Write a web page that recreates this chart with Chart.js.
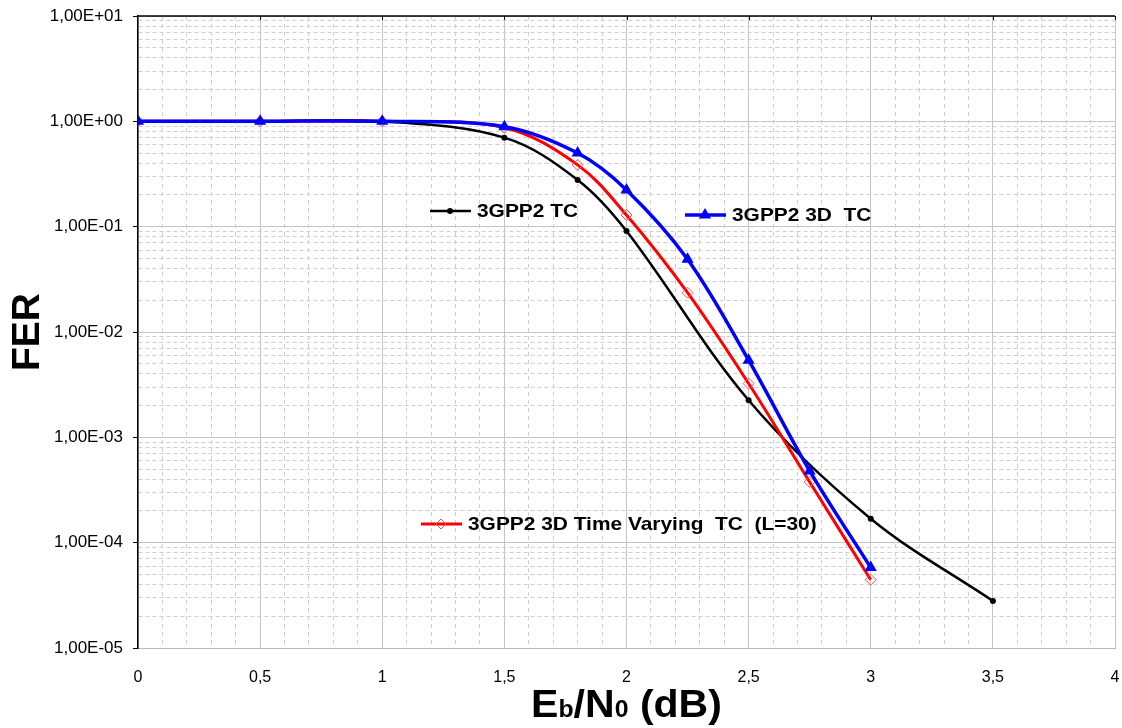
<!DOCTYPE html>
<html>
<head>
<meta charset="utf-8">
<script src="https://cdn.jsdelivr.net/npm/chart.js@4.4.0/dist/chart.umd.min.js"></script>
<style>
  html, body { margin: 0; padding: 0; background: #fff; }
  #chart { display: block; }
</style>
</head>
<body>
<canvas id="chart" width="1122" height="728"></canvas>
<script>
// Eb/N0 (dB) and FER
const ebnoTC = [0, 0.5, 1, 1.5, 1.8, 2, 2.5, 3, 3.5];
const ferTC = [1, 1, 1, 0.70, 0.278, 0.091, 0.00225, 0.000169, 0.000028];

const ebno3D = [0, 0.5, 1, 1.5, 1.8, 2, 2.25, 2.5, 2.75, 3];
const fer3D = [1, 1, 1, 0.89, 0.50, 0.223, 0.049, 0.0054, 0.00048, 0.000058];

const ebnoTV = [0, 0.5, 1, 1.5, 1.8, 2, 2.25, 2.5, 2.75, 3];
const ferTV = [1, 1, 1, 0.87, 0.386, 0.129, 0.0236, 0.00324, 0.000377, 0.0000445];

const seriesNames = ['3GPP2 TC', '3GPP2 3D  TC', '3GPP2 3D Time Varying  TC  (L=30)'];
const yDecades = [-5, -4, -3, -2, -1, 0, 1];
const xMin = 0, xMax = 4, xStep = 0.1;

const FONT = '"Liberation Sans", Arial, sans-serif';

function pts(xs, ys) {
  return xs.map((x, i) => ({x: x, y: ys[i]}));
}

function isDecade(v) {
  const e = Math.log10(v);
  return Math.abs(e - Math.round(e)) < 1e-9;
}

function isHalf(v) {
  return Math.abs(v * 2 - Math.round(v * 2)) < 1e-6;
}

function sciLabel(v) {
  const e = Math.round(Math.log10(v));
  return '1,00E' + (e < 0 ? '-' : '+') + String(Math.abs(e)).padStart(2, '0');
}

function drawMarker(ctx, style, x, y, r) {
  ctx.beginPath();
  if (style === 'triangle') {
    ctx.moveTo(x, y - r);
    ctx.lineTo(x + r * 0.866, y + r * 0.5);
    ctx.lineTo(x - r * 0.866, y + r * 0.5);
    ctx.closePath();
    ctx.fill();
  } else if (style === 'rectRot') {
    ctx.moveTo(x, y - r);
    ctx.lineTo(x + r, y);
    ctx.lineTo(x, y + r);
    ctx.lineTo(x - r, y);
    ctx.closePath();
    ctx.stroke();
  } else {
    ctx.arc(x, y, r, 0, Math.PI * 2);
    ctx.fill();
  }
}

// text in the original is a bit wider than Arial, so stretch it slightly
function wideText(ctx, txt, x, y, sx) {
  ctx.save();
  ctx.translate(x, y);
  ctx.scale(sx, 1);
  ctx.fillText(txt, 0, 0);
  ctx.restore();
  return ctx.measureText(txt).width * sx;
}

// in-plot labels + top frame + x title with subscripts
const overlay = {
  id: 'overlay',
  afterDatasetsDraw(chart) {
    const ctx = chart.ctx;
    const a = chart.chartArea;
    const xs = chart.scales.x;
    ctx.save();

    // top frame, black with small ticks
    ctx.strokeStyle = '#000';
    ctx.lineWidth = 1.5;
    ctx.beginPath();
    ctx.moveTo(a.left, a.top);
    ctx.lineTo(a.right, a.top);
    ctx.stroke();
    ctx.lineWidth = 1;
    for (let v = 0.5; v <= xMax; v += 0.5) {
      const px = Math.round(xs.getPixelForValue(v)) + 0.5;
      ctx.beginPath();
      ctx.moveTo(px, a.top);
      ctx.lineTo(px, a.top + 4);
      ctx.stroke();
    }

    // labels next to the curves
    const keys = [
      {x: 430, y: 211, color: '#000000', width: 2.5, marker: 'circle', r: 3, name: seriesNames[0]},
      {x: 685, y: 215, color: '#0000ff', width: 3.5, marker: 'triangle', r: 7, name: seriesNames[1]},
      {x: 421, y: 524, color: '#ff0000', width: 3, marker: 'rectRot', r: 5, name: seriesNames[2]}
    ];
    keys.forEach(k => {
      ctx.strokeStyle = k.color;
      ctx.fillStyle = k.color;
      ctx.lineWidth = k.width;
      ctx.beginPath();
      ctx.moveTo(k.x, k.y);
      ctx.lineTo(k.x + 41, k.y);
      ctx.stroke();
      ctx.lineWidth = 1;
      if (k.marker === 'rectRot') ctx.strokeStyle = '#ff5050';
      drawMarker(ctx, k.marker, k.x + 20, k.y, k.r);
      ctx.fillStyle = '#000';
      ctx.font = 'bold 19px ' + FONT;
      ctx.textBaseline = 'middle';
      ctx.textAlign = 'left';
      wideText(ctx, k.name, k.x + 47, k.y + 1, 1.1);
    });

    // x axis title: Eb/N0 (dB)
    const parts = [
      ['E', 38], ['b', 23], ['/N', 38], ['0', 23], [' (dB)', 38]
    ];
    const sx = 1.08;
    let total = 0;
    parts.forEach(p => {
      ctx.font = 'bold ' + p[1] + 'px ' + FONT;
      total += ctx.measureText(p[0]).width * sx;
    });
    let cx = (a.left + a.right) / 2 - total / 2;
    ctx.textBaseline = 'alphabetic';
    ctx.fillStyle = '#000';
    parts.forEach(p => {
      ctx.font = 'bold ' + p[1] + 'px ' + FONT;
      cx += wideText(ctx, p[0], cx, 717, sx);
    });

    ctx.restore();
  }
};

const ctx = document.getElementById('chart').getContext('2d');

new Chart(ctx, {
  type: 'line',
  data: {
    datasets: [
      {
        label: seriesNames[0],
        data: pts(ebnoTC, ferTC),
        borderColor: '#000000',
        backgroundColor: '#000000',
        borderWidth: 2.5,
        pointStyle: 'circle',
        pointRadius: 3,
        pointBorderWidth: 0,
        tension: 0.35,
        order: 2
      },
      {
        label: seriesNames[1],
        data: pts(ebno3D, fer3D),
        borderColor: '#0000ff',
        backgroundColor: '#0000ff',
        borderWidth: 3.5,
        pointStyle: 'triangle',
        pointRadius: 7,
        pointBorderWidth: 0,
        tension: 0.35,
        order: 0
      },
      {
        label: seriesNames[2],
        data: pts(ebnoTV, ferTV),
        borderColor: '#ff0000',
        backgroundColor: 'rgba(255,255,255,0)',
        borderWidth: 3,
        pointStyle: 'rectRot',
        pointRadius: 5.5,
        pointBorderWidth: 1,
        pointBorderColor: '#ff5050',
        tension: 0.35,
        order: 1
      }
    ]
  },
  options: {
    responsive: false,
    animation: false,
    events: [],
    layout: {
      padding: {top: 16, right: 1, left: 0, bottom: 0}
    },
    plugins: {
      legend: {display: false},
      tooltip: {enabled: false},
      title: {display: false}
    },
    scales: {
      x: {
        type: 'linear',
        min: xMin,
        max: xMax,
        afterFit: s => {
          s.height = 80;
          s.paddingLeft = 0;
          s.paddingRight = 0;
        },
        ticks: {
          stepSize: xStep,
          autoSkip: false,
          maxRotation: 0,
          padding: 20,
          color: '#000',
          font: {family: FONT, size: 16},
          callback: v => isHalf(v) ? String(Math.round(v * 2) / 2).replace('.', ',') : ''
        },
        grid: {
          drawTicks: false,
          lineWidth: 1,
          color: c => isHalf(c.tick.value) ? '#c4c4c4' : '#cfcfcf'
        },
        border: {
          color: '#b8b8b8',
          width: 1,
          dash: c => (c.tick && !isHalf(c.tick.value)) ? [4, 4] : []
        }
      },
      y: {
        type: 'logarithmic',
        min: 1e-5,
        max: 10,
        afterFit: s => {
          s.width = 138;
          s.paddingTop = 0;
          s.paddingBottom = 0;
        },
        afterBuildTicks: s => {
          const t = [];
          yDecades.forEach(e => {
            const top = e === yDecades[yDecades.length - 1] ? 1 : 9;
            for (let m = 1; m <= top; m++) t.push({value: m * Math.pow(10, e)});
          });
          s.ticks = t;
        },
        ticks: {
          autoSkip: false,
          padding: 10,
          color: '#000',
          font: {family: FONT, size: 17},
          callback: v => isDecade(v) ? sciLabel(v) : ''
        },
        grid: {
          tickLength: 5,
          lineWidth: 1,
          color: c => (c.tick && isDecade(c.tick.value)) ? '#c4c4c4' : '#cfcfcf',
          tickColor: c => (c.tick && isDecade(c.tick.value)) ? '#000' : 'rgba(0,0,0,0)'
        },
        border: {
          color: '#000',
          width: 1.5,
          dash: c => (c.tick && !isDecade(c.tick.value)) ? [4, 3] : []
        },
        title: {
          display: true,
          text: 'FER',
          color: '#000',
          font: {family: FONT, size: 39, weight: 'bold'},
          padding: {top: 5, bottom: 0}
        }
      }
    }
  },
  plugins: [overlay]
});
</script>
</body>
</html>
